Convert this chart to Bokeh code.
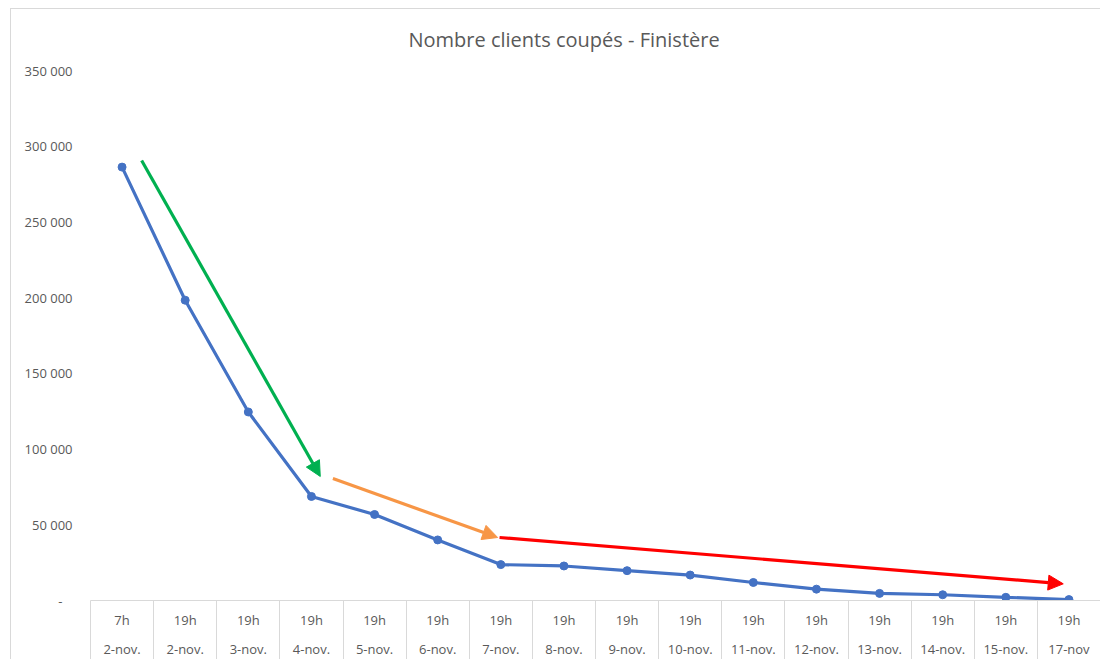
from bokeh.plotting import figure
from bokeh.models import (Range1d, FixedTicker, LinearAxis, Arrow, NormalHead,
                          ColumnDataSource)
from bokeh.embed import file_html
from bokeh.resources import INLINE

# ---- data ----
hours = ["7h"] + ["19h"] * 15
dates = ["2-nov.", "2-nov.", "3-nov.", "4-nov.", "5-nov.", "6-nov.", "7-nov.", "8-nov.",
         "9-nov.", "10-nov.", "11-nov.", "12-nov.", "13-nov.", "14-nov.", "15-nov.", "17-nov"]
clients = [286200, 198300, 124500, 68700, 56800, 40000, 23700, 22800,
           19700, 16800, 11900, 7500, 4700, 3800, 2100, 600]
y_ticks = [0, 50000, 100000, 150000, 200000, 250000, 300000, 350000]
y_labels = ["-\u00a0\u00a0\u00a0", "50 000", "100 000", "150 000", "200 000",
            "250 000", "300 000", "350 000"]
# trend arrows: (x_start, y_start, x_end, y_end, colour) in category index / value units
arrows = [
    (0.31, 290600, 3.14, 81900, "#00B050"),
    (3.34, 80500, 5.95, 41600, "#F79646"),
    (5.98, 41600, 14.91, 11000, "#FF0000"),
]
title_text = "Nombre clients coupés - Finistère"

FONT = "Open Sans"
GREY = "#595959"
LINE = "#d9d9d9"

n = len(clients)
xs = list(range(n))

p = figure(width=1090, height=651, output_backend="svg", toolbar_location=None,
           x_range=Range1d(-0.5, n - 0.5), y_range=Range1d(0, 350000),
           min_border_left=79, min_border_right=1, min_border_top=61, min_border_bottom=0,
           x_axis_type=None, y_axis_type=None)
p.outline_line_color = None
p.background_fill_color = "white"
p.border_fill_color = "white"
p.styles = {"margin-left": "10px", "margin-top": "8px",
            "border-left": "1px solid #d9d9d9", "border-top": "1px solid #d9d9d9"}

p.title.text = title_text
p.title.align = "left"
p.title.vertical_align = "top"
p.title.offset = 318
p.title.standoff = 31
p.title.text_font = FONT
p.title.text_font_size = "20px"
p.title.text_font_style = "normal"
p.title.text_color = GREY

# y axis
yax = LinearAxis(ticker=FixedTicker(ticks=y_ticks, minor_ticks=[]))
yax.major_label_overrides = {t: l for t, l in zip(y_ticks, y_labels)}
yax.axis_line_color = None
yax.major_tick_line_color = None
yax.major_tick_out = 0
yax.major_tick_in = 0
yax.minor_tick_line_color = None
yax.minor_tick_out = 0
yax.minor_tick_in = 0
yax.major_label_standoff = 18
yax.major_label_text_font = FONT
yax.major_label_text_font_size = "13px"
yax.major_label_text_color = GREY
p.add_layout(yax, "left")
p.ygrid.ticker = FixedTicker(ticks=y_ticks)
p.ygrid.grid_line_color = LINE
p.ygrid.grid_line_width = 1
p.xgrid.grid_line_color = None

bounds = [i - 0.5 for i in range(n + 1)]


def make_x_axis(labels, axis_line, standoff, tick_len):
    ax = LinearAxis(ticker=FixedTicker(ticks=xs, minor_ticks=bounds))
    ax.major_label_overrides = {i: t for i, t in enumerate(labels)}
    ax.axis_line_color = axis_line
    ax.major_tick_line_color = None
    ax.major_tick_out = 0
    ax.major_tick_in = 0
    ax.minor_tick_line_color = LINE
    ax.minor_tick_out = 0
    ax.minor_tick_in = -tick_len
    ax.major_label_standoff = standoff
    ax.major_label_text_font = FONT
    ax.major_label_text_font_size = "13px"
    ax.major_label_text_color = GREY
    return ax


p.add_layout(make_x_axis(hours, LINE, 10, 32), "below")
p.add_layout(make_x_axis(dates, None, 8, 30), "below")

src = ColumnDataSource(dict(x=xs, y=clients))
p.line("x", "y", source=src, line_color="#4472C4", line_width=3.2)
p.scatter("x", "y", source=src, size=8, fill_color="#4472C4", line_color="#4472C4")

for x0, y0, x1, y1, c in arrows:
    p.add_layout(Arrow(x_start=x0, y_start=y0, x_end=x1, y_end=y1,
                       line_color=c, line_width=3.2,
                       end=NormalHead(size=15, fill_color=c, line_color=c, line_width=1)))

open("out.html", "w").write(file_html(p, INLINE))
